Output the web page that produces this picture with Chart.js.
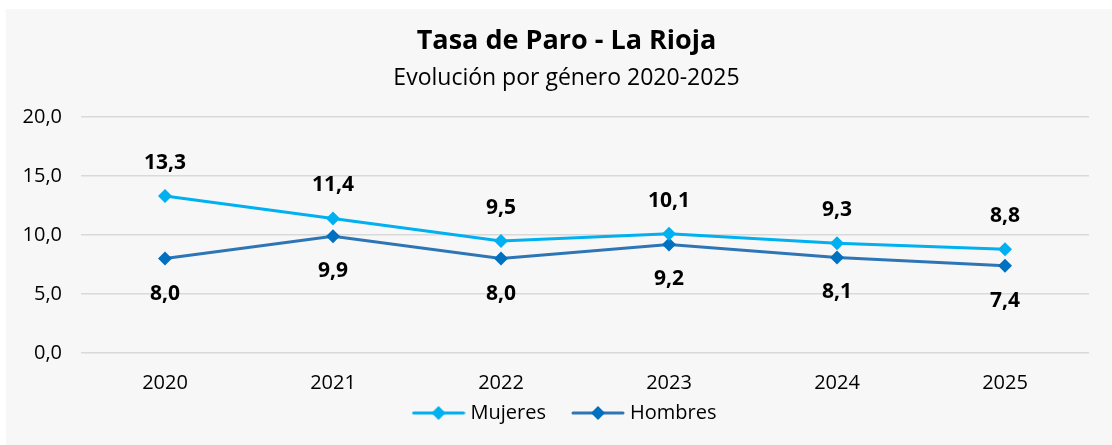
<!DOCTYPE html>
<html>
<head>
<meta charset="utf-8">
<script src="https://cdn.jsdelivr.net/npm/chart.js@4"></script>
<style>
  html, body { margin: 0; padding: 0; background: #ffffff; }
  #panel { position: absolute; left: 6px; top: 9px; width: 1106px; height: 436px; background: #f7f7f7; }
</style>
</head>
<body>
<div id="panel"><canvas id="paroChart"></canvas></div>
<script>
// === Data ===
const YEARS = ['2020', '2021', '2022', '2023', '2024', '2025'];
const MUJERES = [13.3, 11.4, 9.5, 10.1, 9.3, 8.8];
const HOMBRES = [8.0, 9.9, 8.0, 9.2, 8.1, 7.4];
const Y_TICKS = [0, 5, 10, 15, 20];

const FONT = '"Open Sans", Lato, sans-serif';
const C_MUJ = '#00b0f0';
const C_HOM_LINE = '#2e75b6';
const C_HOM_PT = '#0070c0';

const LEGEND_PAD = 30;   // gap between legend items
const LEGEND_H = 32;     // height the legend takes in the layout
const LEGEND_MID = 406;  // vertical centre of legend items (canvas px)
const BLOCK_SHIFT = 13;  // title/legend sit right of the layout centre

const fmt = (v) => v.toFixed(1).replace('.', ',');

// legend icon: short line with a diamond in the middle
function legendIcon(lineColor, pointColor) {
    const c = document.createElement('canvas');
    c.width = 54; c.height = 16;
    const g = c.getContext('2d');
    g.strokeStyle = lineColor;
    g.lineWidth = 3;
    g.lineCap = 'round';
    g.beginPath();
    g.moveTo(2, 8); g.lineTo(52, 8);
    g.stroke();
    g.fillStyle = pointColor;
    g.beginPath();
    g.moveTo(27, 1); g.lineTo(34, 8); g.lineTo(27, 15); g.lineTo(20, 8);
    g.closePath();
    g.fill();
    return c;
}
const ICONS = [legendIcon(C_MUJ, C_MUJ), legendIcon(C_HOM_LINE, C_HOM_PT)];

// value labels: Mujeres above, Hombres below
const valueLabels = {
    id: 'valueLabels',
    afterDatasetsDraw(chart) {
        const ctx = chart.ctx;
        ctx.save();
        ctx.font = 'bold 21px ' + FONT;
        ctx.fillStyle = '#000';
        ctx.textAlign = 'center';
        ctx.textBaseline = 'middle';
        chart.data.datasets.forEach((ds, i) => {
            const meta = chart.getDatasetMeta(i);
            const dy = i === 0 ? -33 : 35;
            meta.data.forEach((pt, j) => {
                ctx.fillText(fmt(ds.data[j]), pt.x, pt.y + dy);
            });
        });
        ctx.restore();
    }
};

// keep the legend compact in the layout, then place it and the titles by hand
const placeBlocks = {
    id: 'placeBlocks',
    beforeLayout(chart) {
        const lg = chart.legend;
        if (lg && !lg._compact) {
            const fit = lg.fit;
            lg.fit = function () {
                fit.call(this);
                this.height = LEGEND_H;
            };
            lg._compact = true;
        }
    },
    afterLayout(chart) {
        chart.boxes.forEach((b) => {
            if (b instanceof Chart.Scale) return;
            b.left += BLOCK_SHIFT;
            b.right += BLOCK_SHIFT;
        });
        const lg = chart.legend;
        if (lg) {
            lg.top = LEGEND_MID - LEGEND_PAD - 12;
            lg.bottom = chart.height;
            lg.height = lg.bottom - lg.top;
        }
    }
};

new Chart(document.getElementById('paroChart'), {
    type: 'line',
    data: {
        labels: YEARS,
        datasets: [{
            label: 'Mujeres',
            data: MUJERES,
            borderColor: C_MUJ,
            backgroundColor: C_MUJ,
            pointBackgroundColor: C_MUJ,
            pointBorderColor: C_MUJ,
            borderWidth: 3,
            pointStyle: 'rectRot',
            pointRadius: 7,
            pointBorderWidth: 0,
            tension: 0
        }, {
            label: 'Hombres',
            data: HOMBRES,
            borderColor: C_HOM_LINE,
            backgroundColor: C_HOM_PT,
            pointBackgroundColor: C_HOM_PT,
            pointBorderColor: C_HOM_PT,
            borderWidth: 3,
            pointStyle: 'rectRot',
            pointRadius: 7,
            pointBorderWidth: 0,
            tension: 0
        }]
    },
    options: {
        responsive: true,
        maintainAspectRatio: false,
        animation: false,
        layout: { padding: { left: 12, right: 23, top: 0, bottom: 0 } },
        scales: {
            x: {
                offset: true,
                grid: { display: false, drawTicks: false },
                border: { display: false },
                ticks: { color: '#000', font: { family: FONT, size: 20 }, padding: 18 }
            },
            y: {
                min: 0,
                max: 20,
                afterFit: (s) => { s.width = 63; },
                afterBuildTicks: (s) => { s.ticks = Y_TICKS.map(v => ({ value: v })); },
                grid: { color: '#d9d9d9', lineWidth: 1.5, drawTicks: false },
                border: { display: false },
                ticks: { color: '#000', font: { family: FONT, size: 20 }, padding: 19, callback: (v) => fmt(v) }
            }
        },
        plugins: {
            title: {
                display: true,
                text: 'Tasa de Paro - La Rioja',
                color: '#000',
                font: { family: FONT, size: 27, weight: 'bold' },
                padding: { top: 16, bottom: 7 }
            },
            subtitle: {
                display: true,
                text: 'Evolución por género 2020-2025',
                color: '#000',
                font: { family: FONT, size: 23, weight: 'normal' },
                padding: { top: 0, bottom: 25 }
            },
            legend: {
                position: 'bottom',
                labels: {
                    color: '#000',
                    font: { family: FONT, size: 20 },
                    usePointStyle: true,
                    pointStyleWidth: 44,
                    padding: LEGEND_PAD,
                    generateLabels: (chart) => {
                        const items = Chart.defaults.plugins.legend.labels.generateLabels(chart);
                        items.forEach((it, i) => { it.pointStyle = ICONS[i]; });
                        return items;
                    }
                }
            },
            tooltip: { enabled: false }
        }
    },
    plugins: [valueLabels, placeBlocks]
});
</script>
</body>
</html>
